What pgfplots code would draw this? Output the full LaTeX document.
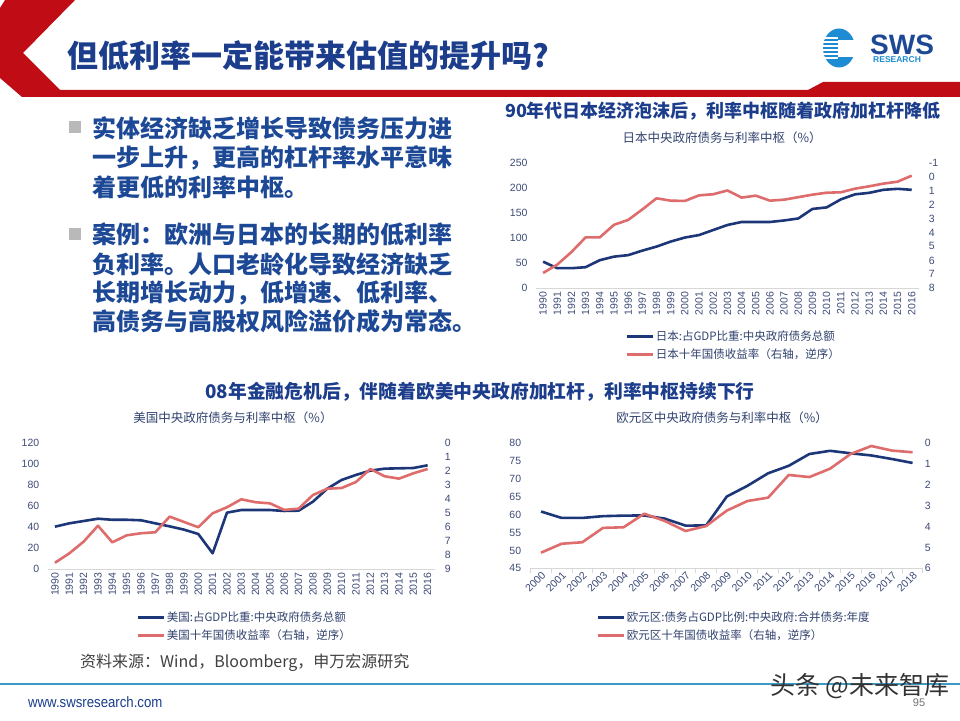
\documentclass[border=0pt]{standalone}
\usepackage{pgfplots}
\usepackage{pgfplotstable}
\pgfplotsset{compat=1.18}
\usepackage{fontspec}
\setmainfont{Liberation Sans}
\newfontfamily\cjk{Noto Sans CJK SC}

\definecolor{jnavy}{RGB}{28,54,120}
\definecolor{rose}{RGB}{222,108,108}
\definecolor{ticktxt}{RGB}{62,76,120}
\definecolor{headblue}{RGB}{27,61,140}
\definecolor{bodyblue}{RGB}{28,72,150}
\definecolor{titlegrey}{RGB}{48,66,110}
\definecolor{swsred}{RGB}{192,12,20}
\definecolor{axisgrey}{RGB}{215,215,215}
\definecolor{logoblue}{RGB}{30,140,210}
\definecolor{rulecyan}{RGB}{60,155,196}

% Japan: central government debt (% of GDP) and 10y JGB yield (%)
\pgfplotstableread{
year debt yield
1990 53 6.9
1991 40 6.3
1992 40 5.4
1993 42 4.35
1994 56 4.35
1995 63 3.45
1996 66 3.1
1997 75 2.35
1998 83 1.55
1999 93 1.72
2000 101 1.74
2001 106 1.34
2002 116 1.26
2003 126 0.99
2004 132 1.5
2005 132 1.36
2006 132 1.72
2007 135 1.65
2008 139 1.47
2009 158 1.29
2010 161 1.15
2011 177 1.12
2012 187 0.86
2013 190 0.69
2014 196 0.5
2015 198 0.36
2016 196 -0.07
}\japan

% United States
\pgfplotstableread{
year debt yield
1990 40.4 8.55
1991 43.6 7.88
1992 45.8 7.04
1993 48 5.9
1994 47 7.09
1995 47 6.59
1996 46.5 6.44
1997 43.6 6.37
1998 40.7 5.25
1999 37.6 5.63
2000 33.4 6.01
2001 15 5.01
2002 53.8 4.58
2003 56.3 4.01
2004 56.3 4.22
2005 56.3 4.3
2006 55.4 4.77
2007 55.7 4.68
2008 64.3 3.7
2009 76.7 3.25
2010 85 3.2
2011 89.8 2.77
2012 93.9 1.84
2013 95.8 2.36
2014 96.1 2.53
2015 96.4 2.15
2016 99 1.84
}\usa

% Euro area, years 2000-2018 as positions 0-18
\pgfplotstableread{
pos debt yield
0 60.9 5.25
1 59.1 4.82
2 59.1 4.75
3 59.6 4.06
4 59.75 4.03
5 59.8 3.38
6 58.9 3.73
7 56.95 4.21
8 57.0 3.97
9 65.1 3.23
10 68.1 2.77
11 71.6 2.61
12 73.7 1.52
13 77.0 1.62
14 77.9 1.22
15 77.2 0.51
16 76.6 0.13
17 75.6 0.35
18 74.5 0.43
}\euro

\pgfplotsset{
  slide/.style={
    scale only axis,
    axis x line*=bottom,
    x axis line style={draw=axisgrey, line width=0.9pt},
    y axis line style={draw=none},
    ytick style={draw=none},
    xtick style={draw=none},
    tick label style={text=ticktxt},
    /pgf/number format/assume math mode=true,
    /pgf/number format/1000 sep={},
    clip=false,
  },
  debt/.style={jnavy, line width=2.6pt, line join=round},
  yield/.style={rose, line width=2.6pt, line join=round},
  slidelegend/.style={
    legend cell align=left,
    legend image code/.code={\draw[##1] (0pt,0pt) -- (26pt,0pt);},
    legend style={draw=none, fill=none, inner sep=0pt, row sep=3pt,
      font=\cjk\fontsize{11.5}{13}\selectfont, text=titlegrey,
      nodes={inner sep=2pt}},
  },
}

\begin{document}
\begin{tikzpicture}[x=1pt,y=1pt]
\useasboundingbox (0,0) rectangle (960,720);
\fill[white] (0,0) rectangle (960,720);

% header band
\fill[swsred] (5,720) -- (75,720) -- (23,667) -- (60,630) -- (808,630) -- (823,638)
  -- (960,638) -- (960,623) -- (22,623) -- (0,642) -- (0,712) -- cycle;

% logo
\fill[logoblue] (839,672) ellipse [x radius=16, y radius=19.5];
\foreach \yy in {662,666,670,674,678,682}
  \draw[white, line width=1.1pt] (822,\yy) -- (838,\yy);
\fill[white] (838,663) rectangle (855,680);
\node[anchor=west, inner sep=0pt, text=bodyblue, font=\bfseries\fontsize{28}{30}\selectfont] at (870,675) {SWS};
\node[anchor=west, inner sep=0pt, text=logoblue, font=\bfseries\fontsize{8.5}{9}\selectfont] at (873,660) {RESEARCH};

% title
\node[anchor=west, inner sep=0pt, text=headblue, font=\cjk\bfseries\fontsize{31}{36}\selectfont] at (67,664) {但低利率一定能带来估值的提升吗?};

% bullets
\fill[gray!55] (69,587) rectangle (81,599);
\fill[gray!55] (69,480) rectangle (81,492);
\begin{scope}[every node/.style={anchor=west, inner sep=0pt, text=bodyblue, font=\cjk\bfseries\fontsize{24}{28}\selectfont}]
\node at (92,592) {实体经济缺乏增长导致债务压力进};
\node at (92,562) {一步上升，更高的杠杆率水平意味};
\node at (92,533) {着更低的利率中枢。};
\node at (92,486) {案例：欧洲与日本的长期的低利率};
\node at (92,456) {负利率。人口老龄化导致经济缺乏};
\node at (92,427) {长期增长动力，低增速、低利率、};
\node at (92,399) {高债务与高股权风险溢价成为常态。};
\end{scope}

% headings and chart titles
\node[inner sep=0pt, text=headblue, font=\cjk\bfseries\fontsize{18}{20}\selectfont] at (723,609) {90年代日本经济泡沫后，利率中枢随着政府加杠杆降低};
\node[inner sep=0pt, text=titlegrey, font=\cjk\fontsize{12.5}{14}\selectfont] at (722,582.5) {日本中央政府债务与利率中枢（\%）};
\node[inner sep=0pt, text=headblue, font=\cjk\bfseries\fontsize{18.8}{21}\selectfont] at (480,328) {08年金融危机后，伴随着欧美中央政府加杠杆，利率中枢持续下行};
\node[inner sep=0pt, text=titlegrey, font=\cjk\fontsize{12.5}{14}\selectfont] at (233,302) {美国中央政府债务与利率中枢（\%）};
\node[inner sep=0pt, text=titlegrey, font=\cjk\fontsize{12.5}{14}\selectfont] at (722,302) {欧元区中央政府债务与利率中枢（\%）};

% ---------- Japan ----------
\begin{axis}[slide, slidelegend, at={(536pt,431.7pt)}, anchor=south west,
  width=382.8pt, height=125.6pt,
  xmin=1989.5, xmax=2016.5, ymin=0, ymax=250,
  axis y line*=left, ytick={0,50,...,250}, xtick={1990,...,2016},
  xticklabel style={rotate=90, anchor=east, font=\fontsize{10.5}{12}\selectfont},
  yticklabel style={font=\fontsize{10.5}{12}\selectfont, xshift=-5pt},
  legend style={at={(0.2325,-0.32)}, anchor=north west}]
\addplot[debt] table[x=year, y=debt] {\japan};
\addlegendentry{日本:占GDP比重:中央政府债务总额}
\addlegendimage{yield}
\addlegendentry{日本十年国债收益率（右轴，逆序）}
\end{axis}
\begin{axis}[slide, at={(536pt,431.7pt)}, anchor=south west,
  width=382.8pt, height=125.6pt,
  xmin=1989.5, xmax=2016.5, ymin=-1, ymax=8, y dir=reverse,
  axis x line=none, axis y line*=right, ytick={-1,0,...,8},
  yticklabel style={font=\fontsize{10.5}{12}\selectfont, xshift=6.5pt}]
\addplot[yield] table[x=year, y=yield] {\japan};
\end{axis}

% ---------- United States ----------
\begin{axis}[slide, slidelegend, at={(47.8pt,151pt)}, anchor=south west,
  width=387pt, height=125.7pt,
  xmin=1989.5, xmax=2016.5, ymin=0, ymax=120,
  axis y line*=left, ytick={0,20,...,120}, xtick={1990,...,2016},
  xticklabel style={rotate=90, anchor=east, font=\fontsize{10.5}{12}\selectfont},
  yticklabel style={font=\fontsize{10.5}{12}\selectfont, xshift=-5pt},
  legend style={at={(0.228,-0.322)}, anchor=north west}]
\addplot[debt] table[x=year, y=debt] {\usa};
\addlegendentry{美国:占GDP比重:中央政府债务总额}
\addlegendimage{yield}
\addlegendentry{美国十年国债收益率（右轴，逆序）}
\end{axis}
\begin{axis}[slide, at={(47.8pt,151pt)}, anchor=south west,
  width=387pt, height=125.7pt,
  xmin=1989.5, xmax=2016.5, ymin=0, ymax=9, y dir=reverse,
  axis x line=none, axis y line*=right, ytick={0,...,9},
  yticklabel style={font=\fontsize{10.5}{12}\selectfont, xshift=6.5pt}]
\addplot[yield] table[x=year, y=yield] {\usa};
\end{axis}

% ---------- Euro area ----------
\begin{axis}[slide, slidelegend, at={(530.7pt,151.7pt)}, anchor=south west,
  width=392.2pt, height=125pt,
  xmin=-0.5, xmax=18.5, ymin=45, ymax=80,
  axis y line*=left, ytick={45,50,...,80},
  xtick={0,...,18},
  xticklabels={2000,2001,2002,2003,2004,2005,2006,2007,2008,2009,2010,2011,2012,2013,2014,2015,2016,2017,2018},
  minor xtick={-0.5,0.5,...,18.5},
  major tick length=0pt, minor tick length=5pt, tick align=outside,
  minor x tick style={draw=axisgrey, line width=0.9pt},
  xticklabel style={rotate=45, anchor=north east, inner sep=1.5pt, font=\fontsize{10.5}{12}\selectfont},
  yticklabel style={font=\fontsize{10.5}{12}\selectfont, xshift=-6pt},
  legend style={at={(0.1665,-0.33)}, anchor=north west}]
\addplot[debt] table[x=pos, y=debt] {\euro};
\addlegendentry{欧元区:债务占GDP比例:中央政府:合并债务:年度}
\addlegendimage{yield}
\addlegendentry{欧元区十年国债收益率（右轴，逆序）}
\end{axis}
\begin{axis}[slide, at={(530.7pt,151.7pt)}, anchor=south west,
  width=392.2pt, height=125pt,
  xmin=-0.5, xmax=18.5, ymin=0, ymax=6, y dir=reverse,
  axis x line=none, axis y line*=right, ytick={0,...,6},
  yticklabel style={font=\fontsize{10.5}{12}\selectfont, xshift=-1.5pt}]
\addplot[yield] table[x=pos, y=yield] {\euro};
\end{axis}

% footer
\node[anchor=west, inner sep=0pt, text=black!75, font=\cjk\fontsize{16}{18}\selectfont] at (80,57) {资料来源：Wind，Bloomberg，申万宏源研究};
\draw[rulecyan, line width=2pt] (0,36) -- (960,36);
\node[anchor=west, inner sep=0pt, text=headblue, font=\fontsize{15}{17}\selectfont, xscale=0.88, transform shape] at (28,18) {www.swsresearch.com};
\node[inner sep=0pt, text=black!55, font=\fontsize{11}{12}\selectfont] at (919,17) {95};
\node[inner sep=0pt, text=black!80, font=\cjk\fontsize{25}{28}\selectfont] at (860,34) {头条 @未来智库};
\end{tikzpicture}
\end{document}
